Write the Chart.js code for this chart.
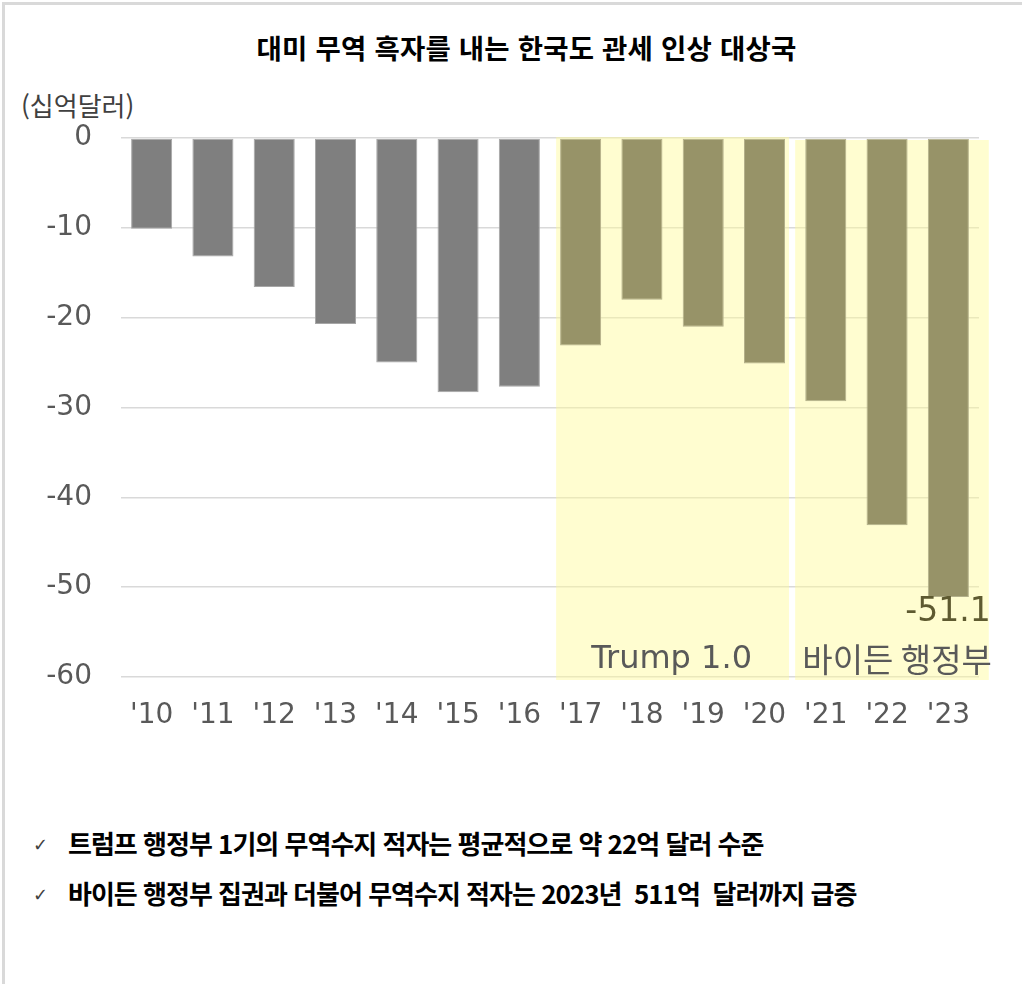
<!DOCTYPE html>
<html lang="ko">
<head>
<meta charset="utf-8">
<script src="https://cdn.jsdelivr.net/npm/chart.js@4.4.0/dist/chart.umd.min.js"></script>
<style>
    body { margin: 0; background: #fff; width: 1022px; height: 984px; overflow: hidden; position: relative; font-family: 'Noto Sans CJK KR', sans-serif; }
    #moldura { position: absolute; left: 2px; top: 2px; width: 1040px; height: 1000px; border-left: 3px solid #D9D9D9; border-top: 3px solid #D9D9D9; }
    #titulo { position: absolute; left: 0; width: 1053px; top: 29px; text-align: center; font-weight: 700; font-size: 27.5px; letter-spacing: 0.2px; color: #000; line-height: 36px; }
    #unidade { position: absolute; left: 21px; top: 87px; font-size: 26px; color: #404040; line-height: 36px; }
    #area_grafico { position: absolute; left: 0; top: 0; width: 1022px; height: 770px; }
    .nota { position: absolute; left: 0; font-size: 26px; font-weight: 700; color: #000; line-height: 34px; white-space: nowrap; }
    .nota .check { position: absolute; left: 33px; top: 2px; font-family: 'DejaVu Sans'; font-weight: 400; font-size: 18px; color: #404040; }
    .nota .texto { position: absolute; left: 68px; letter-spacing: -1.0px; }
</style>
</head>
<body>
<div id="moldura"></div>
<div id="titulo">대미 무역 흑자를 내는 한국도 관세 인상 대상국</div>
<div id="unidade">(십억달러)</div>
<div id="area_grafico"><canvas id="grafico_comercio" width="1022" height="770"></canvas></div>
<div class="nota" style="top:826px"><span class="check">✓</span><span class="texto">트럼프 행정부 1기의 무역수지 적자는 평균적으로 약 22억 달러 수준</span></div>
<div class="nota" style="top:876px"><span class="check">✓</span><span class="texto">바이든 행정부 집권과 더불어 무역수지 적자는 2023년&nbsp; 511억&nbsp; 달러까지 급증</span></div>

<script>
// anos e saldo comercial (bilhões de dólares)
const anos = ["'10", "'11", "'12", "'13", "'14", "'15", "'16", "'17", "'18", "'19", "'20", "'21", "'22", "'23"];
const saldo = [-10.1, -13.2, -16.6, -20.7, -25.0, -28.3, -27.7, -23.1, -18.0, -21.0, -25.1, -29.3, -43.1, -51.1];
const periodos = [
    { nome: "Trump 1.0", inicio: 7, fim: 10 },
    { nome: "바이든 행정부", inicio: 11, fim: 13 }
];
const marcasEixoY = [0, -10, -20, -30, -40, -50, -60];

const corCinza = '#7F7F7F'
const corOliva = '#979368'

// cores por barra: antes de 2017 cinza, depois oliva
var coresBarras = saldo.map((v, i) => i < periodos[0].inicio ? corCinza : corOliva)
var coresBorda = saldo.map((v, i) => i < periodos[0].inicio ? '#A6A6A6' : '#B3B08A')

// faixas amarelas dos periodos + textos
const pluginPeriodos = {
    id: 'periodos',
    beforeDatasetsDraw(chart) {
        const ctx = chart.ctx
        const x = chart.scales.x
        const y = chart.scales.y
        const passo = x.getPixelForValue(1) - x.getPixelForValue(0)
        const topo = y.getPixelForValue(0)
        const base = y.getPixelForValue(-60)

        ctx.save()
        ctx.fillStyle = 'rgba(255, 250, 150, 0.45)'
        // Trump
        var e1 = x.getPixelForValue(periodos[0].inicio) - passo * 0.40
        var d1 = x.getPixelForValue(periodos[0].fim) + passo * 0.40
        ctx.fillRect(e1, topo - 1, d1 - e1, base - topo + 4)
        // Biden
        var e2 = x.getPixelForValue(periodos[1].inicio) - passo * 0.50
        var d2 = x.getPixelForValue(periodos[1].fim) + passo * 0.66
        ctx.fillRect(e2, topo + 2, d2 - e2, base - topo + 1)
        ctx.restore()
    },
    afterDatasetsDraw(chart) {
        const ctx = chart.ctx
        const x = chart.scales.x
        const y = chart.scales.y
        const passo = x.getPixelForValue(1) - x.getPixelForValue(0)

        ctx.save()
        ctx.font = '32px "DejaVu Sans"'
        ctx.textBaseline = 'middle'
        ctx.textAlign = 'center'
        ctx.fillStyle = '#595959'
        var centro1 = (x.getPixelForValue(periodos[0].inicio) + x.getPixelForValue(periodos[0].fim)) / 2 - 1
        ctx.fillText(periodos[0].nome, centro1, 660)

        ctx.font = '33px "Noto Sans CJK KR"'
        var centro2 = (x.getPixelForValue(periodos[1].inicio) + x.getPixelForValue(periodos[1].fim)) / 2 + 10
        ctx.fillText(periodos[1].nome, centro2, 659)

        // rotulo do ultimo ano
        var ultimo = saldo.length - 1
        ctx.font = '33px "DejaVu Sans"'
        ctx.fillStyle = '#5E5A30'
        ctx.textAlign = 'right'
        ctx.textBaseline = 'top'
        ctx.fillText(saldo[ultimo].toFixed(1), x.getPixelForValue(ultimo) + passo * 0.69, y.getPixelForValue(saldo[ultimo]) - 1)
        ctx.restore()
    }
}

const config = {
    type: 'bar',
    data: {
        labels: anos,
        datasets: [{
            label: 'saldo',
            data: saldo,
            backgroundColor: coresBarras,
            borderColor: coresBorda,
            borderWidth: 1,
            borderSkipped: false,
            barPercentage: 0.67,
            categoryPercentage: 1.0
        }]
    },
    options: {
        responsive: false,
        animation: false,
        devicePixelRatio: 1,
        layout: {
            padding: { top: 138, right: 43, left: 0, bottom: 0 }
        },
        plugins: {
            legend: { display: false },
            tooltip: { enabled: false }
        },
        scales: {
            x: {
                grid: { display: false, drawTicks: false },
                border: { display: false },
                ticks: {
                    font: { family: 'DejaVu Sans', size: 28 },
                    color: '#595959',
                    padding: 22,
                    maxRotation: 0,
                    autoSkip: false
                },
                afterFit: (eixo) => { eixo.height = 93 }
            },
            y: {
                min: -60,
                max: 0,
                afterBuildTicks: (eixo) => { eixo.ticks = marcasEixoY.map(v => ({ value: v })) },
                grid: { color: '#D9D9D9', lineWidth: 1.5, drawTicks: false },
                border: { display: false },
                ticks: {
                    font: { family: 'DejaVu Sans', size: 28 },
                    color: '#595959',
                    padding: 29
                },
                afterFit: (eixo) => { eixo.width = 121 }
            }
        }
    },
    plugins: [pluginPeriodos]
}

new Chart(document.getElementById('grafico_comercio'), config)
</script>
</body>
</html>
